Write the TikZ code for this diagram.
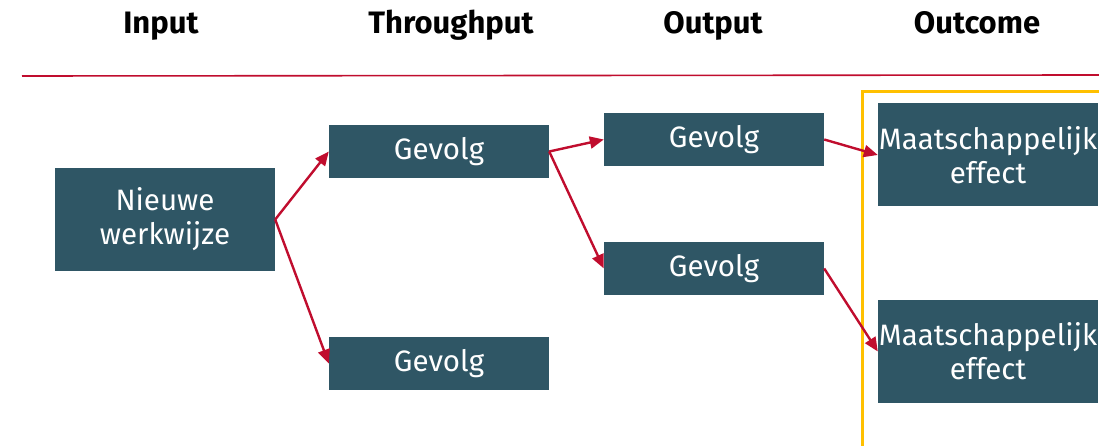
\documentclass[tikz,border=0pt]{standalone}
\usepackage{fontspec}
\setmainfont{Fira Sans}
\usetikzlibrary{arrows.meta}
\definecolor{boxc}{HTML}{2F5665}
\definecolor{arrc}{HTML}{C00D2E}
\definecolor{framec}{HTML}{FFC000}
\begin{document}
\begin{tikzpicture}[x=1pt,y=-1pt,
  box/.style={fill=boxc,text=white,minimum width=220pt,inner sep=0pt,align=center,
    font=\fontsize{29.5}{34}\selectfont},
  head/.style={anchor=base,font=\fontsize{31}{36}\selectfont\bfseries,text=black},
  arr/.style={draw=arrc,line width=2.4pt,-{Triangle[length=14pt,width=12pt]}}]
\useasboundingbox (0,0) rectangle (1099,446);
% headers
\node[head] (h1) at (161,34) {Input};
\node[head] (h2) at (451,34) {Throughput};
\node[head] (h3) at (713,34) {Output};
\node[head] (h4) at (977,34) {Outcome};
\draw[arrc,line width=1.6pt] (22,76) -- (1099,75);
% frame
\draw[framec,line width=3pt] (862,446) -- (862,92) -- (1099,92);
% boxes
\node[box,minimum height=103pt] (nw) at (165,219.5) {Nieuwe\\werkwijze};
\node[box,minimum height=53pt] (g1) at (439,151.5) {Gevolg};
\node[box,minimum height=53pt] (g2) at (439,363.5) {Gevolg};
\node[box,minimum height=53pt] (o1) at (714,139.5) {Gevolg};
\node[box,minimum height=53pt] (o2) at (714,268.5) {Gevolg};
\node[box,minimum height=103pt] (m1) at (988,155) {Maatschappelijk\\effect};
\node[box,minimum height=103pt] (m2) at (988,351.5) {Maatschappelijk\\effect};
% arrows
\draw[arr] (nw.east) -- (g1.west);
\draw[arr] (nw.east) -- (g2.west);
\draw[arr] (g1.east) -- (o1.west);
\draw[arr] (g1.east) -- (o2.west);
\draw[arr] (o1.east) -- (m1.west);
\draw[arr] (o2.east) -- (m2.west);
\end{tikzpicture}
\end{document}
